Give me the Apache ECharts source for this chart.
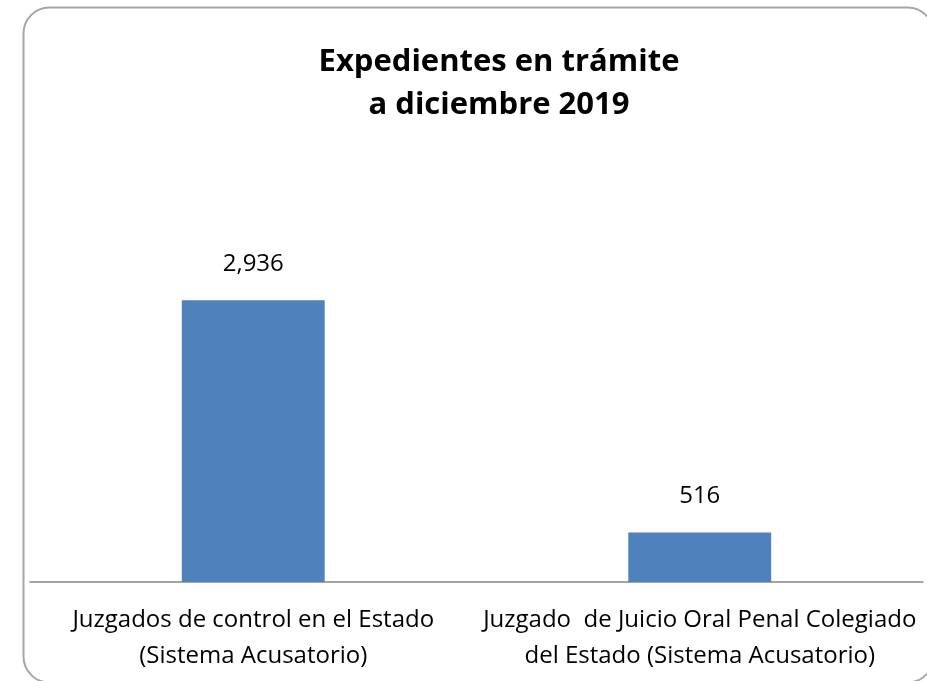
<!DOCTYPE html>
<html><head><meta charset="utf-8">
<script src="https://cdn.jsdelivr.net/npm/echarts@6/dist/echarts.min.js"></script>
<style>html,body{margin:0;padding:0;background:#fff}#c{width:927px;height:681px}</style>
</head><body><div id="c"></div>
<script>
const categories = ["Juzgados de control en el Estado\n(Sistema Acusatorio)", "Juzgado  de Juicio Oral Penal Colegiado\ndel Estado (Sistema Acusatorio)"];
const values = [2936, 516];
const titleText = "Expedientes en trámite\na diciembre 2019";
const chart = echarts.init(document.getElementById('c'));
chart.setOption({
  animation: false,
  graphic: [{type:'rect', left:21, top:5, shape:{width:910, height:675, r:26}, style:{fill:'none', stroke:'#a6a6a6', lineWidth:2}, silent:true}],
  title: {text: titleText, left: 494, top: 36, textAlign: 'center',
    textStyle: {fontFamily: 'Open Sans', fontWeight: 'bold', fontSize: 31, lineHeight: 43, color: '#000'}},
  grid: {left: 30, right: 4, top: 246, bottom: 99},
  xAxis: {type: 'category', data: categories,
    axisLine: {lineStyle: {color: '#868686', width: 1.5}}, axisTick: {show: false},
    axisLabel: {fontFamily: 'Open Sans', fontSize: 24, color: '#000', lineHeight: 36, margin: 20, interval: 0}},
  yAxis: {type: 'value', min: 0, max: 3500, show: false, splitLine: {show: false}},
  series: [{type: 'bar', data: values, barWidth: '32%', itemStyle: {color: '#4f81bd'},
    label: {show: true, position: 'top', distance: 24, fontFamily: 'Open Sans', fontSize: 24, color: '#000',
      formatter: p => p.value.toLocaleString('en-US')}}]
});
</script></body></html>
